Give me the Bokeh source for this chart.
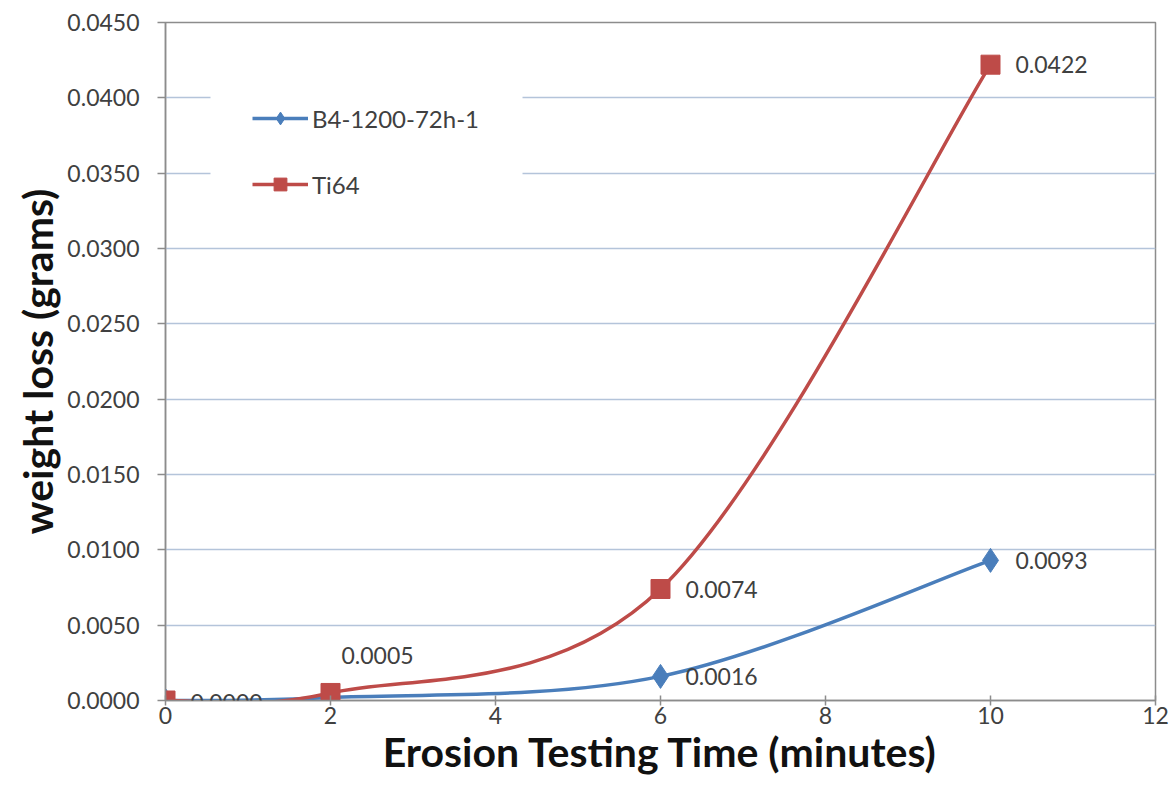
from bokeh.plotting import figure
from bokeh.models import (ColumnDataSource, Range1d, FixedTicker, NumeralTickFormatter,
                          Legend, LegendItem, Label, BoxAnnotation)
from bokeh.embed import file_html
from bokeh.resources import INLINE

# ---- data ----
time_min = [0, 2, 6, 10]
b4_loss = [0.0000, 0.0002, 0.0016, 0.0093]
ti64_loss = [0.0000, 0.0005, 0.0074, 0.0422]
series_names = ["B4-1200-72h-1", "Ti64"]
x_ticks = [0, 2, 4, 6, 8, 10, 12]
y_ticks = [0.0, 0.005, 0.010, 0.015, 0.020, 0.025, 0.030, 0.035, 0.040, 0.045]

# label offsets (style, screen px)
b4_dx = [25, 11, 25, 25]
b4_dy = [0, -21, 0, 0]
b4_show = [False, True, True, True]
ti_dx = [25, 11, 25, 25]
ti_dy = [-2, 37, 0, 0]
ti_show = [True, True, True, True]

BLUE = "#4a7ebb"
RED = "#be4b48"
FONT = "Lato"
TXT = "#404040"

p = figure(width=1169, height=785, output_backend="svg", toolbar_location=None,
           x_range=Range1d(0, 12), y_range=Range1d(0, 0.045),
           min_border_left=165, min_border_top=22, min_border_right=14, min_border_bottom=85)

p.background_fill_color = "white"
p.border_fill_color = "white"
p.outline_line_color = "#8c8c8c"
p.outline_line_width = 1.5

p.xgrid.grid_line_color = None
p.ygrid.grid_line_color = "#b4c4da"
p.ygrid.grid_line_width = 1.5

p.xaxis.ticker = FixedTicker(ticks=x_ticks)
p.yaxis.ticker = FixedTicker(ticks=y_ticks)
p.yaxis.formatter = NumeralTickFormatter(format="0.0000")
for ax in (p.xaxis, p.yaxis):
    ax.axis_line_color = "#8c8c8c"
    ax.axis_line_width = 1.5
    ax.major_tick_line_color = "#8c8c8c"
    ax.major_tick_line_width = 1.5
    ax.minor_tick_line_color = None
    ax.major_label_text_font = FONT
    ax.major_label_text_font_size = "23px"
    ax.major_label_text_color = TXT
    ax.axis_label_text_font = FONT
    ax.axis_label_text_font_style = "bold"
    ax.axis_label_text_color = "#111111"
    ax.axis_label_text_font_size = "41px"
p.xaxis.major_tick_in = 5
p.xaxis.major_tick_out = 5
p.yaxis.major_tick_in = 0
p.yaxis.major_tick_out = 8
p.xaxis.major_label_standoff = 1
p.yaxis.major_label_standoff = 18
p.xaxis.axis_label = "Erosion Testing Time (minutes)"
p.yaxis.axis_label = "weight loss (grams)"
p.xaxis.axis_label_standoff = 0
p.yaxis.axis_label_standoff = 2

# white panel behind the legend (screen units relative to the frame)
p.add_layout(BoxAnnotation(left=45, right=357, bottom=460, top=638,
                           left_units="screen", right_units="screen",
                           bottom_units="screen", top_units="screen",
                           fill_color="white", fill_alpha=1, line_color=None,
                           level="underlay"))


def smooth_segments(xs, ys):
    """Bezier control points of a Catmull-Rom style smoothed line through the points."""
    n = len(xs)
    seg = dict(x0=[], y0=[], x1=[], y1=[], cx0=[], cy0=[], cx1=[], cy1=[])
    for i in range(n - 1):
        i0 = max(i - 1, 0)
        i3 = min(i + 2, n - 1)
        seg["x0"].append(xs[i]); seg["y0"].append(ys[i])
        seg["x1"].append(xs[i + 1]); seg["y1"].append(ys[i + 1])
        seg["cx0"].append(xs[i] + (xs[i + 1] - xs[i0]) / 6)
        seg["cy0"].append(ys[i] + (ys[i + 1] - ys[i0]) / 6)
        seg["cx1"].append(xs[i + 1] - (xs[i3] - xs[i]) / 6)
        seg["cy1"].append(ys[i + 1] - (ys[i3] - ys[i]) / 6)
    return ColumnDataSource(seg)


# curves
b4_curve = p.bezier(x0="x0", y0="y0", x1="x1", y1="y1", cx0="cx0", cy0="cy0", cx1="cx1",
                    cy1="cy1", source=smooth_segments(time_min, b4_loss),
                    line_color=BLUE, line_width=3.5)
b4_pts = p.scatter(time_min, b4_loss, marker="diamond", size=24, fill_color=BLUE,
                   line_color=BLUE)
ti_curve = p.bezier(x0="x0", y0="y0", x1="x1", y1="y1", cx0="cx0", cy0="cy0", cx1="cx1",
                    cy1="cy1", source=smooth_segments(time_min, ti64_loss),
                    line_color=RED, line_width=3.5)
ti_pts = p.scatter(time_min, ti64_loss, marker="square", size=19, fill_color=RED,
                   line_color=RED)

# data labels
for vals, dxs, dys, shows in ((b4_loss, b4_dx, b4_dy, b4_show),
                              (ti64_loss, ti_dx, ti_dy, ti_show)):
    for t, v, dx, dy, s in zip(time_min, vals, dxs, dys, shows):
        if not s:
            continue
        p.add_layout(Label(x=t, y=v, text="%.4f" % v, x_offset=dx, y_offset=dy,
                           text_font=FONT, text_font_size="23px", text_color=TXT,
                           text_baseline="middle", text_align="left"))

legend = Legend(items=[
    LegendItem(label=series_names[0], renderers=[b4_curve, b4_pts], index=0),
    LegendItem(label=series_names[1], renderers=[ti_curve, ti_pts], index=0),
], location=(87, 500))
legend.border_line_color = None
legend.background_fill_alpha = 0
legend.padding = 0
legend.margin = 0
legend.spacing = 34
legend.glyph_width = 56
legend.glyph_height = 32
legend.label_height = 32
legend.label_standoff = 4
legend.label_text_font = FONT
legend.label_text_font_size = "24px"
legend.label_text_color = TXT
p.add_layout(legend, "center")

open("out.html", "w").write(file_html(p, INLINE))
